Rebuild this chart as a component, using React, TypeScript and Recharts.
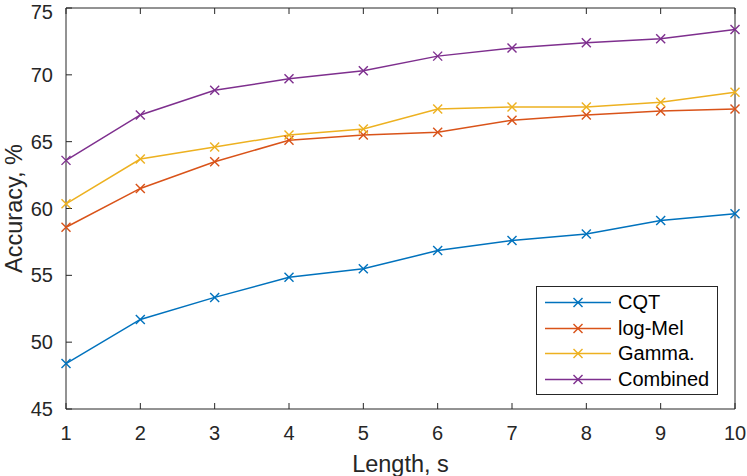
import React from 'react';
import { LineChart, Line, XAxis, YAxis } from 'recharts';

const lengths = [1, 2, 3, 4, 5, 6, 7, 8, 9, 10];
const cqt = [48.4, 51.7, 53.35, 54.85, 55.5, 56.85, 57.6, 58.1, 59.1, 59.6];
const logMel = [58.6, 61.5, 63.5, 65.1, 65.5, 65.7, 66.6, 67.0, 67.3, 67.45];
const gamma = [60.35, 63.7, 64.6, 65.5, 65.95, 67.45, 67.6, 67.6, 67.95, 68.7];
const combined = [63.6, 67.0, 68.85, 69.7, 70.3, 71.4, 72.0, 72.4, 72.7, 73.4];
const xTicks = [1, 2, 3, 4, 5, 6, 7, 8, 9, 10];
const yTicks = [45, 50, 55, 60, 65, 70, 75];

const series = [
  { key: 'cqt', name: 'CQT', color: '#0072BD' },
  { key: 'logMel', name: 'log-Mel', color: '#D95319' },
  { key: 'gamma', name: 'Gamma.', color: '#EDB120' },
  { key: 'combined', name: 'Combined', color: '#7E2F8E' },
];

const data = lengths.map((x, i) => ({
  x,
  cqt: cqt[i],
  logMel: logMel[i],
  gamma: gamma[i],
  combined: combined[i],
}));

const FONT = '"Liberation Sans", Arial, Helvetica, sans-serif';
const AXIS = '#262626';

// matlab style 'x' marker
const Cross = (props: any) => {
  const { cx, cy, stroke } = props;
  if (cx == null || cy == null) return null;
  const r = 4.5;
  return (
    <g>
      <line x1={cx - r} y1={cy - r} x2={cx + r} y2={cy + r} stroke={stroke} strokeWidth={1.4} />
      <line x1={cx - r} y1={cy + r} x2={cx + r} y2={cy - r} stroke={stroke} strokeWidth={1.4} />
    </g>
  );
};

const LegendBox = () => (
  <div
    style={{
      position: 'absolute',
      left: 536,
      top: 286,
      width: 182,
      height: 109,
      border: `1px solid ${AXIS}`,
      background: '#fff',
      boxSizing: 'border-box',
      fontFamily: FONT,
      fontSize: 20,
      color: '#000',
    }}
  >
    {series.map((s, i) => (
      <div key={s.key} style={{ position: 'absolute', left: 0, top: 3 + i * 25.5, height: 25, width: '100%' }}>
        <svg width={76} height={25} style={{ position: 'absolute', left: 0, top: 0 }}>
          <line x1={8} y1={12.5} x2={74} y2={12.5} stroke={s.color} strokeWidth={1.5} />
          <Cross cx={41} cy={12.5} stroke={s.color} />
        </svg>
        <span style={{ position: 'absolute', left: 81, top: 0, lineHeight: '25px' }}>{s.name}</span>
      </div>
    ))}
  </div>
);

const tickStyle = { fontSize: 20, fill: AXIS, fontFamily: FONT };

export default function App() {
  return (
    <div style={{ position: 'absolute', left: 0, top: 0, width: 747, height: 476, background: '#fff' }}>
      <LineChart width={747} height={476} data={data} margin={{ top: 0, right: 0, bottom: 0, left: 0 }}>
        <XAxis
          dataKey="x"
          type="number"
          domain={[1, 10]}
          ticks={xTicks}
          height={67}
          tickSize={-6}
          tickMargin={23}
          stroke={AXIS}
          tick={tickStyle}
          label={{ value: 'Length, s', position: 'insideBottom', offset: 4, fill: AXIS, fontSize: 23.5, fontFamily: FONT }}
        />
        <XAxis
          xAxisId="top"
          orientation="top"
          dataKey="x"
          type="number"
          domain={[1, 10]}
          ticks={xTicks}
          height={8}
          tickSize={-6}
          stroke={AXIS}
          tickFormatter={() => ''}
        />
        <YAxis
          type="number"
          domain={[45, 75]}
          ticks={yTicks}
          width={66}
          tickSize={-6}
          tickMargin={19}
          stroke={AXIS}
          tick={tickStyle}
          label={{
            value: 'Accuracy, %',
            angle: -90,
            position: 'insideLeft',
            offset: 14,
            fill: AXIS,
            fontSize: 23.5,
            fontFamily: FONT,
            style: { textAnchor: 'middle' },
          }}
        />
        <YAxis
          yAxisId="right"
          orientation="right"
          type="number"
          domain={[45, 75]}
          ticks={yTicks}
          width={12}
          tickSize={-6}
          stroke={AXIS}
          tickFormatter={() => ''}
        />
        {series.map((s) => (
          <Line
            key={s.key}
            dataKey={s.key}
            name={s.name}
            stroke={s.color}
            strokeWidth={1.5}
            dot={<Cross />}
            activeDot={false}
            isAnimationActive={false}
          />
        ))}
      </LineChart>
      <LegendBox />
    </div>
  );
}
